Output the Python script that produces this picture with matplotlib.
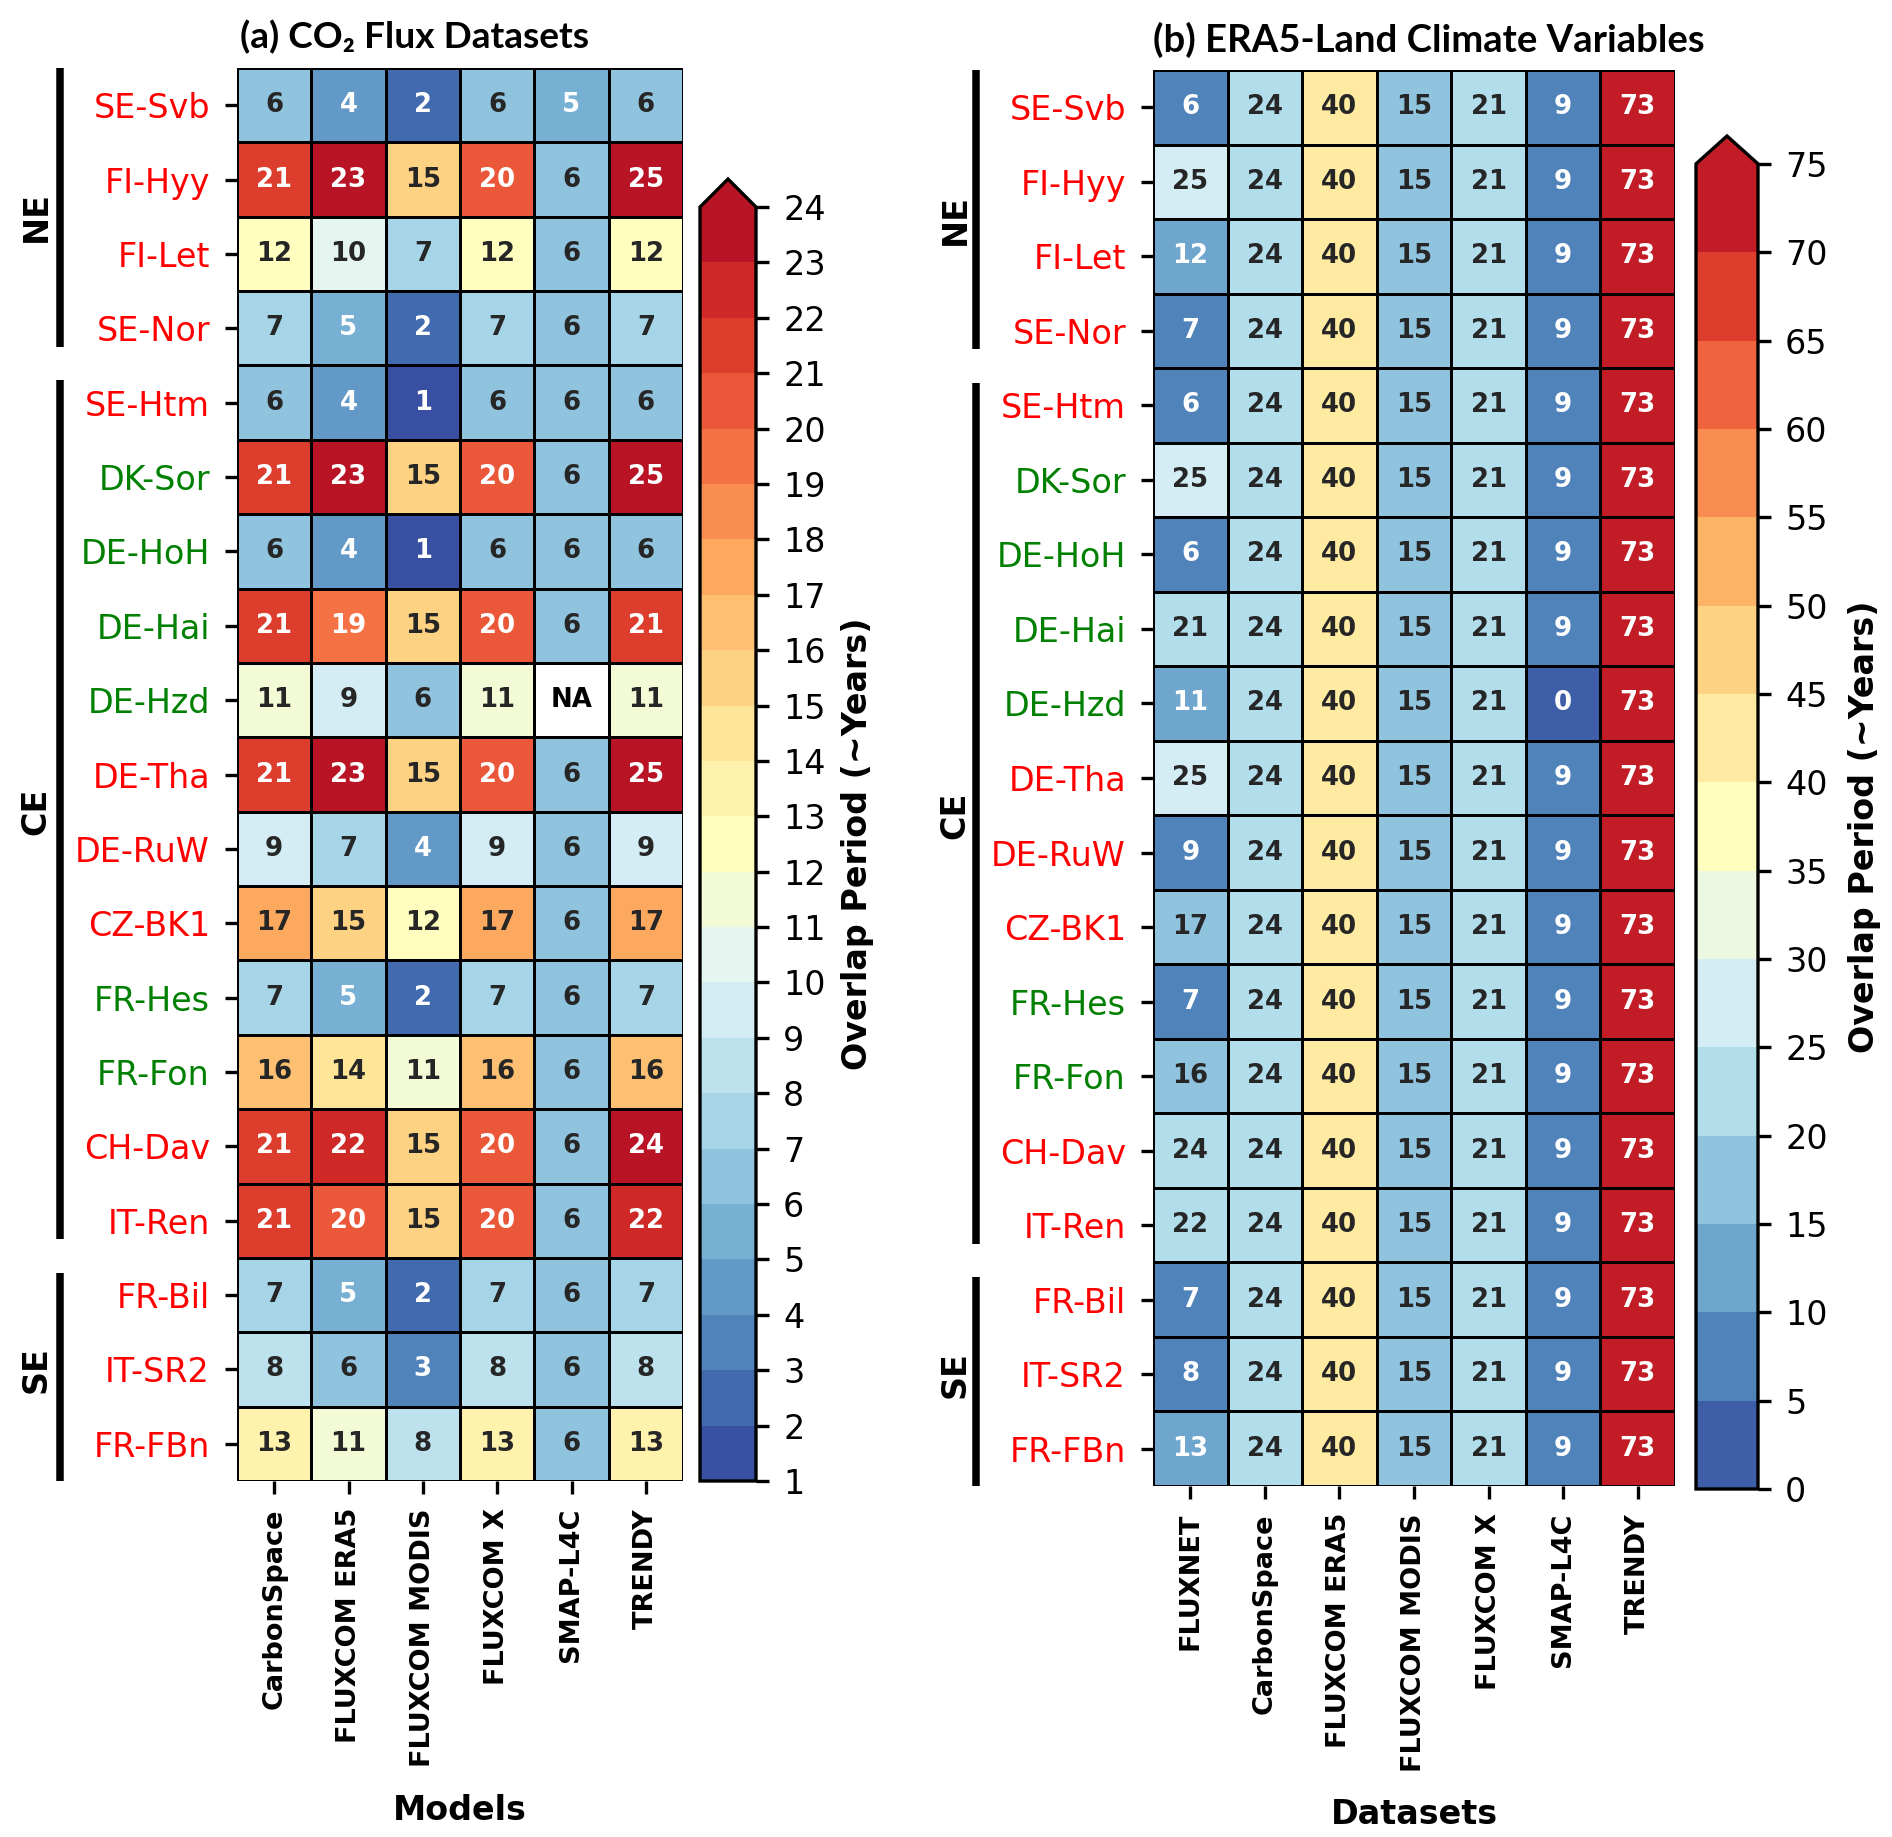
import numpy as np
import matplotlib
matplotlib.use("Agg")
import matplotlib.pyplot as plt
from matplotlib.colors import ListedColormap, BoundaryNorm, to_rgb
from matplotlib.cm import ScalarMappable

# sites (rows) and their label colours
sites = ["SE-Svb", "FI-Hyy", "FI-Let", "SE-Nor", "SE-Htm", "DK-Sor", "DE-HoH",
         "DE-Hai", "DE-Hzd", "DE-Tha", "DE-RuW", "CZ-BK1", "FR-Hes", "FR-Fon",
         "CH-Dav", "IT-Ren", "FR-Bil", "IT-SR2", "FR-FBn"]
site_colors = ["red", "red", "red", "red", "red", "green", "green", "green", "green",
               "red", "red", "red", "green", "green", "red", "red", "red", "red", "red"]

# regions: name, first row, last row (exclusive)
groups = [("NE", 0, 4), ("CE", 4, 16), ("SE", 16, 19)]

models = ["CarbonSpace", "FLUXCOM ERA5", "FLUXCOM MODIS", "FLUXCOM X", "SMAP-L4C", "TRENDY"]
flux_years = [
    [6, 4, 2, 6, 5, 6],
    [21, 23, 15, 20, 6, 25],
    [12, 10, 7, 12, 6, 12],
    [7, 5, 2, 7, 6, 7],
    [6, 4, 1, 6, 6, 6],
    [21, 23, 15, 20, 6, 25],
    [6, 4, 1, 6, 6, 6],
    [21, 19, 15, 20, 6, 21],
    [11, 9, 6, 11, np.nan, 11],
    [21, 23, 15, 20, 6, 25],
    [9, 7, 4, 9, 6, 9],
    [17, 15, 12, 17, 6, 17],
    [7, 5, 2, 7, 6, 7],
    [16, 14, 11, 16, 6, 16],
    [21, 22, 15, 20, 6, 24],
    [21, 20, 15, 20, 6, 22],
    [7, 5, 2, 7, 6, 7],
    [8, 6, 3, 8, 6, 8],
    [13, 11, 8, 13, 6, 13],
]

datasets = ["FLUXNET", "CarbonSpace", "FLUXCOM ERA5", "FLUXCOM MODIS", "FLUXCOM X", "SMAP-L4C", "TRENDY"]
fluxnet_era5 = [6, 25, 12, 7, 6, 25, 6, 21, 11, 25, 9, 17, 7, 16, 24, 22, 7, 8, 13]
carbonspace_era5 = [24] * 19
fluxcom_era5_era5 = [40] * 19
fluxcom_modis_era5 = [15] * 19
fluxcom_x_era5 = [21] * 19
smap_era5 = [9, 9, 9, 9, 9, 9, 9, 9, 0, 9, 9, 9, 9, 9, 9, 9, 9, 9, 9]
trendy_era5 = [73] * 19
era5_years = np.column_stack([fluxnet_era5, carbonspace_era5, fluxcom_era5_era5,
                              fluxcom_modis_era5, fluxcom_x_era5, smap_era5, trendy_era5])

levels_a = np.arange(1, 25, 1)
levels_b = np.arange(0, 80, 5)


def binned_cmap(n):
    base = plt.get_cmap("RdYlBu_r")
    cols = base(np.linspace(0, 1, n + 2)[1:-1])
    cm = ListedColormap(cols)
    cm.set_over(cols[-1])
    cm.set_bad("white")
    return cm


def text_color(rgb):
    r, g, b = to_rgb(rgb)
    lin = [c / 12.92 if c <= 0.03928 else ((c + 0.055) / 1.055) ** 2.4 for c in (r, g, b)]
    lum = 0.2126 * lin[0] + 0.7152 * lin[1] + 0.0722 * lin[2]
    return ".15" if lum > 0.408 else "white"


def draw_heatmap(ax, data, cols, cmap, norm):
    data = np.ma.masked_invalid(np.array(data, dtype=float))
    nr, nc = data.shape
    ax.pcolormesh(np.arange(nc + 1), np.arange(nr + 1), data, cmap=cmap, norm=norm,
                  edgecolors="black", linewidth=0.6)
    ax.set_xlim(0, nc)
    ax.set_ylim(nr, 0)
    for s in ax.spines.values():
        s.set_visible(False)
    for i in range(nr):
        for j in range(nc):
            v = data[i, j]
            if np.ma.is_masked(v):
                ax.text(j + 0.5, i + 0.5, "NA", ha="center", va="center",
                        fontsize=6.25, fontweight="bold", color="black")
            else:
                c = cmap(norm(v))
                ax.text(j + 0.5, i + 0.5, "%d" % v, ha="center", va="center",
                        fontsize=6.25, fontweight="bold", color=text_color(c))
    ax.set_xticks(np.arange(nc) + 0.5)
    ax.set_xticklabels(cols, rotation=90, fontsize=6.5, fontweight="bold")
    ax.set_yticks(np.arange(nr) + 0.5)
    ax.set_yticklabels(sites, fontsize=8)
    for tl, c in zip(ax.get_yticklabels(), site_colors):
        tl.set_color(c)
    ax.tick_params(length=3, width=0.8)


def draw_groups(ax, bar_x, text_x):
    nr = len(sites)
    tr = ax.get_yaxis_transform()
    for name, r0, r1 in groups:
        y0 = r0 + (0.2 if r0 > 0 else 0.0)
        y1 = r1 - (0.25 if r1 < nr else 0.0)
        ax.plot([bar_x, bar_x], [y0, y1], color="black", lw=1.8, transform=tr,
                clip_on=False, solid_capstyle="butt")
        ax.text(text_x, (r0 + r1) / 2, name, rotation=90, ha="center", va="center",
                fontsize=8, fontweight="bold", transform=tr)


def draw_cbar(fig, cax, cmap, norm, levels, extendfrac, label_x):
    cb = fig.colorbar(ScalarMappable(norm=norm, cmap=cmap), cax=cax, extend="max",
                      extendfrac=extendfrac, ticks=levels)
    cb.outline.set_linewidth(0.8)
    cb.outline.set_edgecolor("black")
    cax.tick_params(labelsize=8, length=3, width=0.8)
    cax.text(label_x, 0.5, "Overlap Period (~Years)", rotation=90, ha="center",
             va="center", fontsize=8, fontweight="bold", transform=cax.transAxes)
    return cb


W, H = 1892, 1837
fig = plt.figure(figsize=(W / 300, H / 300), dpi=300)


def px_axes(x0, y0, x1, y1):
    return fig.add_axes([x0 / W, 1 - y1 / H, (x1 - x0) / W, (y1 - y0) / H])


ax_a = px_axes(237, 68, 683, 1481)
cax_a = px_axes(700, 179, 756, 1481)
ax_b = px_axes(1153, 70, 1675, 1486)
cax_b = px_axes(1696, 136, 1758, 1489)

cmap_a = binned_cmap(len(levels_a) - 1)
norm_a = BoundaryNorm(levels_a, len(levels_a) - 1)
cmap_b = binned_cmap(len(levels_b) - 1)
norm_b = BoundaryNorm(levels_b, len(levels_b) - 1)

draw_heatmap(ax_a, flux_years, models, cmap_a, norm_a)
draw_heatmap(ax_b, era5_years, datasets, cmap_b, norm_b)

draw_groups(ax_a, (60 - 237) / 446, (36 - 237) / 446)
draw_groups(ax_b, (976 - 1153) / 522, (955 - 1153) / 522)

draw_cbar(fig, cax_a, cmap_a, norm_a, levels_a, 0.022, (857 - 700) / 56)
draw_cbar(fig, cax_b, cmap_b, norm_b, levels_b, 0.021, (1864 - 1696) / 62)

ax_a.text(0.5, 1 - (1810 - 68) / 1413, "Models", ha="center", va="center",
          fontsize=8, fontweight="bold", transform=ax_a.transAxes)
ax_b.text(0.5, 1 - (1814 - 70) / 1416, "Datasets", ha="center", va="center",
          fontsize=8, fontweight="bold", transform=ax_b.transAxes)

title_font = ["Lato", "DejaVu Sans"]
fig.text(415 / W, 1 - 37 / H, "(a) CO\u2082 Flux Datasets", ha="center", va="center",
         fontsize=8.9, fontweight="bold", family=title_font)
fig.text(1429 / W, 1 - 40 / H, "(b) ERA5-Land Climate Variables", ha="center",
         va="center", fontsize=9.2, fontweight="bold", family=title_font)

fig.savefig("out.png", dpi=300)
